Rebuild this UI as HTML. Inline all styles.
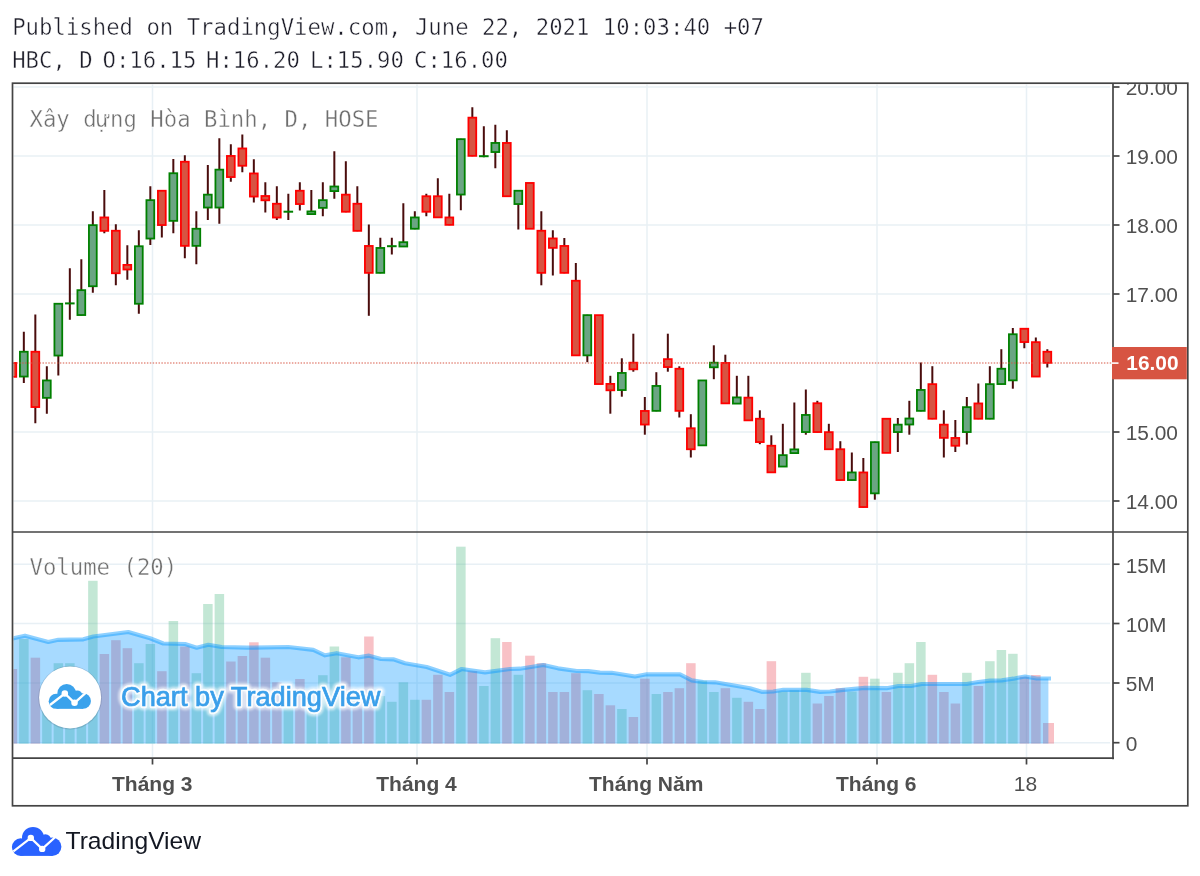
<!DOCTYPE html><html><head><meta charset="utf-8"><title>HBC chart</title>
<style>html,body{margin:0;padding:0;background:#fff}svg{display:block}text{white-space:pre}</style></head><body>
<svg width="1200" height="876" viewBox="0 0 1200 876">
<rect width="1200" height="876" fill="#fff"/>
<defs><clipPath id="cp"><rect x="13.5" y="84.2" width="1098.6" height="673"/></clipPath><filter id="bl" x="-5%" y="-30%" width="110%" height="160%"><feGaussianBlur stdDeviation="0.8"/></filter><clipPath id="ca"><rect x="1114" y="84.2" width="73" height="673"/></clipPath></defs>
<g font-family='"DejaVu Sans Mono","Liberation Mono",monospace' font-size="22.3" fill="#1c1c28" stroke="#fff" stroke-width="0.45">
<text x="12.2" y="35">Published on TradingView.com, June 22, 2021 10:03:40 +07</text>
<text x="12.2" y="68.3">HBC, D</text>
<text x="102.5" y="68.3">O:16.15</text>
<text x="206" y="68.3">H:16.20</text>
<text x="310" y="68.3">L:15.90</text>
<text x="414" y="68.3">C:16.00</text>
</g>
<g stroke="#e8f0f5" stroke-width="1.5" fill="none">
<line x1="13.5" y1="87" x2="1110" y2="87"/>
<line x1="13.5" y1="156" x2="1110" y2="156"/>
<line x1="13.5" y1="225" x2="1110" y2="225"/>
<line x1="13.5" y1="294" x2="1110" y2="294"/>
<line x1="13.5" y1="432" x2="1110" y2="432"/>
<line x1="13.5" y1="501" x2="1110" y2="501"/>
<line x1="13.5" y1="564.2" x2="1110" y2="564.2"/>
<line x1="13.5" y1="623.5" x2="1110" y2="623.5"/>
<line x1="13.5" y1="683" x2="1110" y2="683"/>
<line x1="13.5" y1="742.7" x2="1110" y2="742.7"/>
<line x1="152.5" y1="84.5" x2="152.5" y2="757"/>
<line x1="417" y1="84.5" x2="417" y2="757"/>
<line x1="647" y1="84.5" x2="647" y2="757"/>
<line x1="877" y1="84.5" x2="877" y2="757"/>
<line x1="1026.5" y1="84.5" x2="1026.5" y2="757"/>
</g>
<g clip-path="url(#cp)">
<rect x="7.63" y="669" width="9.5" height="74.6" fill="rgba(235,77,92,0.35)"/>
<rect x="19.13" y="639" width="9.5" height="104.6" fill="rgba(83,185,135,0.35)"/>
<rect x="30.63" y="657.7" width="9.5" height="85.9" fill="rgba(235,77,92,0.35)"/>
<rect x="42.13" y="685" width="9.5" height="58.6" fill="rgba(83,185,135,0.35)"/>
<rect x="53.63" y="663.2" width="9.5" height="80.4" fill="rgba(83,185,135,0.35)"/>
<rect x="65.13" y="663.2" width="9.5" height="80.4" fill="rgba(83,185,135,0.35)"/>
<rect x="76.63" y="690" width="9.5" height="53.6" fill="rgba(83,185,135,0.35)"/>
<rect x="88.13" y="580.8" width="9.5" height="162.8" fill="rgba(83,185,135,0.35)"/>
<rect x="99.63" y="654" width="9.5" height="89.6" fill="rgba(235,77,92,0.35)"/>
<rect x="111.13" y="640.2" width="9.5" height="103.4" fill="rgba(235,77,92,0.35)"/>
<rect x="122.63" y="648.2" width="9.5" height="95.4" fill="rgba(235,77,92,0.35)"/>
<rect x="134.13" y="663.2" width="9.5" height="80.4" fill="rgba(83,185,135,0.35)"/>
<rect x="145.63" y="644" width="9.5" height="99.6" fill="rgba(83,185,135,0.35)"/>
<rect x="157.13" y="671.2" width="9.5" height="72.4" fill="rgba(235,77,92,0.35)"/>
<rect x="168.63" y="621" width="9.5" height="122.6" fill="rgba(83,185,135,0.35)"/>
<rect x="180.13" y="646.5" width="9.5" height="97.1" fill="rgba(235,77,92,0.35)"/>
<rect x="191.63" y="673.2" width="9.5" height="70.4" fill="rgba(83,185,135,0.35)"/>
<rect x="203.13" y="604" width="9.5" height="139.6" fill="rgba(83,185,135,0.35)"/>
<rect x="214.63" y="594" width="9.5" height="149.6" fill="rgba(83,185,135,0.35)"/>
<rect x="226.13" y="661.5" width="9.5" height="82.1" fill="rgba(235,77,92,0.35)"/>
<rect x="237.63" y="656" width="9.5" height="87.6" fill="rgba(235,77,92,0.35)"/>
<rect x="249.13" y="642.3" width="9.5" height="101.3" fill="rgba(235,77,92,0.35)"/>
<rect x="260.63" y="657.7" width="9.5" height="85.9" fill="rgba(235,77,92,0.35)"/>
<rect x="272.13" y="682.3" width="9.5" height="61.3" fill="rgba(235,77,92,0.35)"/>
<rect x="283.63" y="697" width="9.5" height="46.6" fill="rgba(83,185,135,0.35)"/>
<rect x="295.13" y="679" width="9.5" height="64.6" fill="rgba(235,77,92,0.35)"/>
<rect x="306.63" y="702" width="9.5" height="41.6" fill="rgba(83,185,135,0.35)"/>
<rect x="318.13" y="675.2" width="9.5" height="68.4" fill="rgba(83,185,135,0.35)"/>
<rect x="329.63" y="646.5" width="9.5" height="97.1" fill="rgba(83,185,135,0.35)"/>
<rect x="341.13" y="657.3" width="9.5" height="86.3" fill="rgba(235,77,92,0.35)"/>
<rect x="352.63" y="702" width="9.5" height="41.6" fill="rgba(235,77,92,0.35)"/>
<rect x="364.13" y="636.5" width="9.5" height="107.1" fill="rgba(235,77,92,0.35)"/>
<rect x="375.63" y="696" width="9.5" height="47.6" fill="rgba(83,185,135,0.35)"/>
<rect x="387.13" y="701.8" width="9.5" height="41.8" fill="rgba(83,185,135,0.35)"/>
<rect x="398.63" y="682.3" width="9.5" height="61.3" fill="rgba(83,185,135,0.35)"/>
<rect x="410.13" y="699.8" width="9.5" height="43.8" fill="rgba(83,185,135,0.35)"/>
<rect x="421.63" y="699.8" width="9.5" height="43.8" fill="rgba(235,77,92,0.35)"/>
<rect x="433.13" y="674.8" width="9.5" height="68.8" fill="rgba(235,77,92,0.35)"/>
<rect x="444.63" y="692" width="9.5" height="51.6" fill="rgba(235,77,92,0.35)"/>
<rect x="456.13" y="546.7" width="9.5" height="196.9" fill="rgba(83,185,135,0.35)"/>
<rect x="467.63" y="671.2" width="9.5" height="72.4" fill="rgba(235,77,92,0.35)"/>
<rect x="479.13" y="686" width="9.5" height="57.6" fill="rgba(83,185,135,0.35)"/>
<rect x="490.63" y="638.2" width="9.5" height="105.4" fill="rgba(83,185,135,0.35)"/>
<rect x="502.13" y="642" width="9.5" height="101.6" fill="rgba(235,77,92,0.35)"/>
<rect x="513.63" y="674.8" width="9.5" height="68.8" fill="rgba(83,185,135,0.35)"/>
<rect x="525.13" y="655.7" width="9.5" height="87.9" fill="rgba(235,77,92,0.35)"/>
<rect x="536.63" y="663.2" width="9.5" height="80.4" fill="rgba(235,77,92,0.35)"/>
<rect x="548.13" y="692" width="9.5" height="51.6" fill="rgba(235,77,92,0.35)"/>
<rect x="559.63" y="692" width="9.5" height="51.6" fill="rgba(235,77,92,0.35)"/>
<rect x="571.13" y="673.2" width="9.5" height="70.4" fill="rgba(235,77,92,0.35)"/>
<rect x="582.63" y="690.2" width="9.5" height="53.4" fill="rgba(83,185,135,0.35)"/>
<rect x="594.13" y="694" width="9.5" height="49.6" fill="rgba(235,77,92,0.35)"/>
<rect x="605.63" y="705.3" width="9.5" height="38.3" fill="rgba(235,77,92,0.35)"/>
<rect x="617.13" y="709" width="9.5" height="34.6" fill="rgba(83,185,135,0.35)"/>
<rect x="628.63" y="717" width="9.5" height="26.6" fill="rgba(235,77,92,0.35)"/>
<rect x="640.13" y="678.7" width="9.5" height="64.9" fill="rgba(235,77,92,0.35)"/>
<rect x="651.63" y="694" width="9.5" height="49.6" fill="rgba(83,185,135,0.35)"/>
<rect x="663.13" y="692" width="9.5" height="51.6" fill="rgba(235,77,92,0.35)"/>
<rect x="674.63" y="688.2" width="9.5" height="55.4" fill="rgba(235,77,92,0.35)"/>
<rect x="686.13" y="663.2" width="9.5" height="80.4" fill="rgba(235,77,92,0.35)"/>
<rect x="697.63" y="680.7" width="9.5" height="62.9" fill="rgba(83,185,135,0.35)"/>
<rect x="709.13" y="692" width="9.5" height="51.6" fill="rgba(83,185,135,0.35)"/>
<rect x="720.63" y="688.2" width="9.5" height="55.4" fill="rgba(235,77,92,0.35)"/>
<rect x="732.13" y="697.8" width="9.5" height="45.8" fill="rgba(83,185,135,0.35)"/>
<rect x="743.63" y="701.8" width="9.5" height="41.8" fill="rgba(235,77,92,0.35)"/>
<rect x="755.13" y="709" width="9.5" height="34.6" fill="rgba(235,77,92,0.35)"/>
<rect x="766.63" y="661.2" width="9.5" height="82.4" fill="rgba(235,77,92,0.35)"/>
<rect x="778.13" y="691.5" width="9.5" height="52.1" fill="rgba(83,185,135,0.35)"/>
<rect x="789.63" y="690.2" width="9.5" height="53.4" fill="rgba(83,185,135,0.35)"/>
<rect x="801.13" y="672.8" width="9.5" height="70.8" fill="rgba(83,185,135,0.35)"/>
<rect x="812.63" y="703.5" width="9.5" height="40.1" fill="rgba(235,77,92,0.35)"/>
<rect x="824.13" y="696" width="9.5" height="47.6" fill="rgba(235,77,92,0.35)"/>
<rect x="835.63" y="688.2" width="9.5" height="55.4" fill="rgba(235,77,92,0.35)"/>
<rect x="847.13" y="691.5" width="9.5" height="52.1" fill="rgba(83,185,135,0.35)"/>
<rect x="858.63" y="676.8" width="9.5" height="66.8" fill="rgba(235,77,92,0.35)"/>
<rect x="870.13" y="678.7" width="9.5" height="64.9" fill="rgba(83,185,135,0.35)"/>
<rect x="881.63" y="692" width="9.5" height="51.6" fill="rgba(235,77,92,0.35)"/>
<rect x="893.13" y="672.8" width="9.5" height="70.8" fill="rgba(83,185,135,0.35)"/>
<rect x="904.63" y="663.2" width="9.5" height="80.4" fill="rgba(83,185,135,0.35)"/>
<rect x="916.13" y="642" width="9.5" height="101.6" fill="rgba(83,185,135,0.35)"/>
<rect x="927.63" y="674.8" width="9.5" height="68.8" fill="rgba(235,77,92,0.35)"/>
<rect x="939.13" y="692" width="9.5" height="51.6" fill="rgba(235,77,92,0.35)"/>
<rect x="950.63" y="703.5" width="9.5" height="40.1" fill="rgba(235,77,92,0.35)"/>
<rect x="962.13" y="672.8" width="9.5" height="70.8" fill="rgba(83,185,135,0.35)"/>
<rect x="973.63" y="686" width="9.5" height="57.6" fill="rgba(235,77,92,0.35)"/>
<rect x="985.13" y="661.2" width="9.5" height="82.4" fill="rgba(83,185,135,0.35)"/>
<rect x="996.63" y="650" width="9.5" height="93.6" fill="rgba(83,185,135,0.35)"/>
<rect x="1008.13" y="653.8" width="9.5" height="89.8" fill="rgba(83,185,135,0.35)"/>
<rect x="1019.63" y="676.7" width="9.5" height="66.9" fill="rgba(235,77,92,0.35)"/>
<rect x="1031.13" y="675" width="9.5" height="68.6" fill="rgba(235,77,92,0.35)"/>
<rect x="1043.00" y="723" width="11" height="20.6" fill="rgba(235,77,92,0.35)"/>
<polygon points="12.3,638.5 25,635.7 48.3,642 58.3,639.8 83.3,639.3 93.3,636.5 128.3,632 150,638.2 163.3,643.5 185,644 196.7,647.7 208.3,644.8 221.7,647 246.7,647.7 288.3,647 313.3,649.8 325,655.3 336.7,653.2 358.3,657.3 369,655.7 381,659 393.3,659.3 405,663.2 426.7,667 450,674.8 461.7,669 485,672.3 510,669 520,668.7 543.3,665 558,668.3 576.7,671 588.3,671.2 600,672.7 611.7,672.8 635,676.5 646.7,674.3 680,674.3 691.7,680.3 703.3,682 715,682.3 740,686.5 750,688.2 761.7,691.8 773.3,691.5 783.3,689.8 806.7,689.8 820,691.8 830,691.5 843.3,689.8 865,687.8 886.7,688.2 898.3,686 911,686 921.7,684 966.7,684 978.3,682 990,680.7 1001.7,680.3 1013.3,678.7 1025,676.5 1036.7,678.5 1048.4,678.5 1048.4,743.6 12.3,743.6" fill="rgba(4,150,255,0.35)"/>
<polyline points="12.3,638.5 25,635.7 48.3,642 58.3,639.8 83.3,639.3 93.3,636.5 128.3,632 150,638.2 163.3,643.5 185,644 196.7,647.7 208.3,644.8 221.7,647 246.7,647.7 288.3,647 313.3,649.8 325,655.3 336.7,653.2 358.3,657.3 369,655.7 381,659 393.3,659.3 405,663.2 426.7,667 450,674.8 461.7,669 485,672.3 510,669 520,668.7 543.3,665 558,668.3 576.7,671 588.3,671.2 600,672.7 611.7,672.8 635,676.5 646.7,674.3 680,674.3 691.7,680.3 703.3,682 715,682.3 740,686.5 750,688.2 761.7,691.8 773.3,691.5 783.3,689.8 806.7,689.8 820,691.8 830,691.5 843.3,689.8 865,687.8 886.7,688.2 898.3,686 911,686 921.7,684 966.7,684 978.3,682 990,680.7 1001.7,680.3 1013.3,678.7 1025,676.5 1036.7,678.5 1048.4,678.5 1051,678.5" fill="none" stroke="rgba(4,150,255,0.45)" stroke-width="4.2" stroke-linejoin="round"/>
</g>
<g clip-path="url(#cp)">
<rect x="8.43" y="362.95" width="7.8" height="13.90" fill="#d75442" stroke="#ff0000" stroke-width="1.8"/>
<line x1="23.83" y1="331.7" x2="23.83" y2="383" stroke="#4a0c0c" stroke-width="2"/>
<rect x="19.93" y="351.75" width="7.8" height="24.80" fill="#6ba583" stroke="#008000" stroke-width="1.8"/>
<line x1="35.33" y1="314.5" x2="35.33" y2="423.3" stroke="#4a0c0c" stroke-width="2"/>
<rect x="31.43" y="351.75" width="7.8" height="55.30" fill="#d75442" stroke="#ff0000" stroke-width="1.8"/>
<line x1="46.83" y1="366.3" x2="46.83" y2="413.7" stroke="#4a0c0c" stroke-width="2"/>
<rect x="42.93" y="380.45" width="7.8" height="17.40" fill="#6ba583" stroke="#008000" stroke-width="1.8"/>
<line x1="58.33" y1="303.3" x2="58.33" y2="375.5" stroke="#4a0c0c" stroke-width="2"/>
<rect x="54.43" y="303.75" width="7.8" height="51.80" fill="#6ba583" stroke="#008000" stroke-width="1.8"/>
<line x1="69.83" y1="268.3" x2="69.83" y2="319.7" stroke="#4a0c0c" stroke-width="2"/>
<rect x="65.03" y="302.40" width="9.6" height="2.00" fill="#008000"/>
<line x1="81.33" y1="259.2" x2="81.33" y2="315.5" stroke="#4a0c0c" stroke-width="2"/>
<rect x="77.43" y="290.15" width="7.8" height="24.90" fill="#6ba583" stroke="#008000" stroke-width="1.8"/>
<line x1="92.83" y1="211.2" x2="92.83" y2="292.8" stroke="#4a0c0c" stroke-width="2"/>
<rect x="88.93" y="225.15" width="7.8" height="61.10" fill="#6ba583" stroke="#008000" stroke-width="1.8"/>
<line x1="104.33" y1="190" x2="104.33" y2="233.3" stroke="#4a0c0c" stroke-width="2"/>
<rect x="100.43" y="217.45" width="7.8" height="13.40" fill="#d75442" stroke="#ff0000" stroke-width="1.8"/>
<line x1="115.83" y1="224.2" x2="115.83" y2="285.3" stroke="#4a0c0c" stroke-width="2"/>
<rect x="111.93" y="230.75" width="7.8" height="42.50" fill="#d75442" stroke="#ff0000" stroke-width="1.8"/>
<line x1="127.33" y1="245.3" x2="127.33" y2="279.7" stroke="#4a0c0c" stroke-width="2"/>
<rect x="123.43" y="264.90" width="7.8" height="4.60" fill="#d75442" stroke="#ff0000" stroke-width="1.8"/>
<line x1="138.83" y1="230.3" x2="138.83" y2="313.8" stroke="#4a0c0c" stroke-width="2"/>
<rect x="134.93" y="246.25" width="7.8" height="57.50" fill="#6ba583" stroke="#008000" stroke-width="1.8"/>
<line x1="150.33" y1="186.2" x2="150.33" y2="245" stroke="#4a0c0c" stroke-width="2"/>
<rect x="146.43" y="200.15" width="7.8" height="38.40" fill="#6ba583" stroke="#008000" stroke-width="1.8"/>
<line x1="161.83" y1="190.3" x2="161.83" y2="237.5" stroke="#4a0c0c" stroke-width="2"/>
<rect x="157.93" y="190.75" width="7.8" height="34.30" fill="#d75442" stroke="#ff0000" stroke-width="1.8"/>
<line x1="173.33" y1="159.1" x2="173.33" y2="233.3" stroke="#4a0c0c" stroke-width="2"/>
<rect x="169.43" y="173.25" width="7.8" height="47.60" fill="#6ba583" stroke="#008000" stroke-width="1.8"/>
<line x1="184.83" y1="155.3" x2="184.83" y2="258.3" stroke="#4a0c0c" stroke-width="2"/>
<rect x="180.93" y="161.75" width="7.8" height="84.10" fill="#d75442" stroke="#ff0000" stroke-width="1.8"/>
<line x1="196.33" y1="211.2" x2="196.33" y2="264.2" stroke="#4a0c0c" stroke-width="2"/>
<rect x="192.43" y="228.75" width="7.8" height="17.10" fill="#6ba583" stroke="#008000" stroke-width="1.8"/>
<line x1="207.83" y1="165" x2="207.83" y2="220" stroke="#4a0c0c" stroke-width="2"/>
<rect x="203.93" y="194.65" width="7.8" height="12.90" fill="#6ba583" stroke="#008000" stroke-width="1.8"/>
<line x1="219.33" y1="138.3" x2="219.33" y2="223.7" stroke="#4a0c0c" stroke-width="2"/>
<rect x="215.43" y="169.65" width="7.8" height="37.90" fill="#6ba583" stroke="#008000" stroke-width="1.8"/>
<line x1="230.83" y1="144.2" x2="230.83" y2="181.7" stroke="#4a0c0c" stroke-width="2"/>
<rect x="226.93" y="155.95" width="7.8" height="21.10" fill="#d75442" stroke="#ff0000" stroke-width="1.8"/>
<line x1="242.33" y1="134.5" x2="242.33" y2="172.2" stroke="#4a0c0c" stroke-width="2"/>
<rect x="238.43" y="148.45" width="7.8" height="17.30" fill="#d75442" stroke="#ff0000" stroke-width="1.8"/>
<line x1="253.83" y1="159.2" x2="253.83" y2="202.5" stroke="#4a0c0c" stroke-width="2"/>
<rect x="249.93" y="173.45" width="7.8" height="23.10" fill="#d75442" stroke="#ff0000" stroke-width="1.8"/>
<line x1="265.33" y1="182.2" x2="265.33" y2="212.5" stroke="#4a0c0c" stroke-width="2"/>
<rect x="261.43" y="196.00" width="7.8" height="4.30" fill="#d75442" stroke="#ff0000" stroke-width="1.8"/>
<line x1="276.83" y1="186.2" x2="276.83" y2="220" stroke="#4a0c0c" stroke-width="2"/>
<rect x="272.93" y="203.75" width="7.8" height="13.80" fill="#d75442" stroke="#ff0000" stroke-width="1.8"/>
<line x1="288.33" y1="193.7" x2="288.33" y2="220" stroke="#4a0c0c" stroke-width="2"/>
<rect x="283.53" y="210.70" width="9.6" height="2.00" fill="#008000"/>
<line x1="299.83" y1="182.2" x2="299.83" y2="210.5" stroke="#4a0c0c" stroke-width="2"/>
<rect x="295.93" y="190.75" width="7.8" height="13.30" fill="#d75442" stroke="#ff0000" stroke-width="1.8"/>
<line x1="311.33" y1="190" x2="311.33" y2="214.3" stroke="#4a0c0c" stroke-width="2"/>
<rect x="307.43" y="211.40" width="7.8" height="2.70" fill="#6ba583" stroke="#008000" stroke-width="1.8"/>
<line x1="322.83" y1="182.2" x2="322.83" y2="216.3" stroke="#4a0c0c" stroke-width="2"/>
<rect x="318.93" y="200.15" width="7.8" height="7.70" fill="#6ba583" stroke="#008000" stroke-width="1.8"/>
<line x1="334.33" y1="151.3" x2="334.33" y2="198.8" stroke="#4a0c0c" stroke-width="2"/>
<rect x="330.43" y="186.50" width="7.8" height="4.60" fill="#6ba583" stroke="#008000" stroke-width="1.8"/>
<line x1="345.83" y1="161.2" x2="345.83" y2="212.2" stroke="#4a0c0c" stroke-width="2"/>
<rect x="341.93" y="194.65" width="7.8" height="17.10" fill="#d75442" stroke="#ff0000" stroke-width="1.8"/>
<line x1="357.33" y1="186.2" x2="357.33" y2="231.3" stroke="#4a0c0c" stroke-width="2"/>
<rect x="353.43" y="203.75" width="7.8" height="27.10" fill="#d75442" stroke="#ff0000" stroke-width="1.8"/>
<line x1="368.83" y1="224.5" x2="368.83" y2="315.8" stroke="#4a0c0c" stroke-width="2"/>
<rect x="364.93" y="245.95" width="7.8" height="26.90" fill="#d75442" stroke="#ff0000" stroke-width="1.8"/>
<line x1="380.33" y1="237.8" x2="380.33" y2="273.3" stroke="#4a0c0c" stroke-width="2"/>
<rect x="376.43" y="247.95" width="7.8" height="24.90" fill="#6ba583" stroke="#008000" stroke-width="1.8"/>
<line x1="391.83" y1="237.8" x2="391.83" y2="254.5" stroke="#4a0c0c" stroke-width="2"/>
<rect x="387.03" y="245.20" width="9.6" height="2.00" fill="#008000"/>
<line x1="403.33" y1="203.3" x2="403.33" y2="246.7" stroke="#4a0c0c" stroke-width="2"/>
<rect x="399.43" y="242.20" width="7.8" height="4.30" fill="#6ba583" stroke="#008000" stroke-width="1.8"/>
<line x1="414.83" y1="211.2" x2="414.83" y2="229.2" stroke="#4a0c0c" stroke-width="2"/>
<rect x="410.93" y="217.45" width="7.8" height="11.30" fill="#6ba583" stroke="#008000" stroke-width="1.8"/>
<line x1="426.33" y1="193.7" x2="426.33" y2="216.2" stroke="#4a0c0c" stroke-width="2"/>
<rect x="422.43" y="196.25" width="7.8" height="15.50" fill="#d75442" stroke="#ff0000" stroke-width="1.8"/>
<line x1="437.83" y1="178.3" x2="437.83" y2="217.8" stroke="#4a0c0c" stroke-width="2"/>
<rect x="433.93" y="196.25" width="7.8" height="21.10" fill="#d75442" stroke="#ff0000" stroke-width="1.8"/>
<line x1="449.33" y1="193.7" x2="449.33" y2="225.3" stroke="#4a0c0c" stroke-width="2"/>
<rect x="445.43" y="217.45" width="7.8" height="7.40" fill="#d75442" stroke="#ff0000" stroke-width="1.8"/>
<line x1="460.83" y1="138.7" x2="460.83" y2="210.3" stroke="#4a0c0c" stroke-width="2"/>
<rect x="456.93" y="139.15" width="7.8" height="55.40" fill="#6ba583" stroke="#008000" stroke-width="1.8"/>
<line x1="472.33" y1="107.2" x2="472.33" y2="156.3" stroke="#4a0c0c" stroke-width="2"/>
<rect x="468.43" y="117.65" width="7.8" height="38.20" fill="#d75442" stroke="#ff0000" stroke-width="1.8"/>
<line x1="483.83" y1="126.3" x2="483.83" y2="157.2" stroke="#4a0c0c" stroke-width="2"/>
<rect x="479.03" y="155.20" width="9.6" height="2.00" fill="#008000"/>
<line x1="495.33" y1="124.7" x2="495.33" y2="168.3" stroke="#4a0c0c" stroke-width="2"/>
<rect x="491.43" y="142.95" width="7.8" height="9.10" fill="#6ba583" stroke="#008000" stroke-width="1.8"/>
<line x1="506.83" y1="130.3" x2="506.83" y2="196.7" stroke="#4a0c0c" stroke-width="2"/>
<rect x="502.93" y="142.95" width="7.8" height="53.30" fill="#d75442" stroke="#ff0000" stroke-width="1.8"/>
<line x1="518.33" y1="190.3" x2="518.33" y2="229.5" stroke="#4a0c0c" stroke-width="2"/>
<rect x="514.43" y="190.75" width="7.8" height="13.30" fill="#6ba583" stroke="#008000" stroke-width="1.8"/>
<rect x="525.93" y="182.95" width="7.8" height="45.80" fill="#d75442" stroke="#ff0000" stroke-width="1.8"/>
<line x1="541.33" y1="211.2" x2="541.33" y2="285.3" stroke="#4a0c0c" stroke-width="2"/>
<rect x="537.43" y="230.75" width="7.8" height="42.10" fill="#d75442" stroke="#ff0000" stroke-width="1.8"/>
<line x1="552.83" y1="230.3" x2="552.83" y2="275.5" stroke="#4a0c0c" stroke-width="2"/>
<rect x="548.93" y="238.45" width="7.8" height="9.40" fill="#d75442" stroke="#ff0000" stroke-width="1.8"/>
<line x1="564.33" y1="238" x2="564.33" y2="273.3" stroke="#4a0c0c" stroke-width="2"/>
<rect x="560.43" y="245.95" width="7.8" height="26.90" fill="#d75442" stroke="#ff0000" stroke-width="1.8"/>
<line x1="575.83" y1="263" x2="575.83" y2="355.8" stroke="#4a0c0c" stroke-width="2"/>
<rect x="571.93" y="280.75" width="7.8" height="74.60" fill="#d75442" stroke="#ff0000" stroke-width="1.8"/>
<line x1="587.33" y1="314.7" x2="587.33" y2="362.2" stroke="#4a0c0c" stroke-width="2"/>
<rect x="583.43" y="315.15" width="7.8" height="40.20" fill="#6ba583" stroke="#008000" stroke-width="1.8"/>
<rect x="594.93" y="315.15" width="7.8" height="68.90" fill="#d75442" stroke="#ff0000" stroke-width="1.8"/>
<line x1="610.33" y1="375.8" x2="610.33" y2="413.7" stroke="#4a0c0c" stroke-width="2"/>
<rect x="606.43" y="383.90" width="7.8" height="6.40" fill="#d75442" stroke="#ff0000" stroke-width="1.8"/>
<line x1="621.83" y1="358.3" x2="621.83" y2="396.7" stroke="#4a0c0c" stroke-width="2"/>
<rect x="617.93" y="372.95" width="7.8" height="17.10" fill="#6ba583" stroke="#008000" stroke-width="1.8"/>
<line x1="633.33" y1="333.7" x2="633.33" y2="371.7" stroke="#4a0c0c" stroke-width="2"/>
<rect x="629.43" y="362.70" width="7.8" height="6.60" fill="#d75442" stroke="#ff0000" stroke-width="1.8"/>
<line x1="644.83" y1="397" x2="644.83" y2="434.7" stroke="#4a0c0c" stroke-width="2"/>
<rect x="640.93" y="410.95" width="7.8" height="13.60" fill="#d75442" stroke="#ff0000" stroke-width="1.8"/>
<line x1="656.33" y1="372.2" x2="656.33" y2="411.3" stroke="#4a0c0c" stroke-width="2"/>
<rect x="652.43" y="385.95" width="7.8" height="24.90" fill="#6ba583" stroke="#008000" stroke-width="1.8"/>
<line x1="667.83" y1="333.7" x2="667.83" y2="371.7" stroke="#4a0c0c" stroke-width="2"/>
<rect x="663.93" y="359.15" width="7.8" height="7.90" fill="#d75442" stroke="#ff0000" stroke-width="1.8"/>
<line x1="679.33" y1="366.3" x2="679.33" y2="417.5" stroke="#4a0c0c" stroke-width="2"/>
<rect x="675.43" y="368.75" width="7.8" height="42.10" fill="#d75442" stroke="#ff0000" stroke-width="1.8"/>
<line x1="690.83" y1="414.2" x2="690.83" y2="457.5" stroke="#4a0c0c" stroke-width="2"/>
<rect x="686.93" y="428.25" width="7.8" height="21.00" fill="#d75442" stroke="#ff0000" stroke-width="1.8"/>
<rect x="698.43" y="380.45" width="7.8" height="64.90" fill="#6ba583" stroke="#008000" stroke-width="1.8"/>
<line x1="713.83" y1="345.3" x2="713.83" y2="379.2" stroke="#4a0c0c" stroke-width="2"/>
<rect x="709.93" y="362.70" width="7.8" height="4.60" fill="#6ba583" stroke="#008000" stroke-width="1.8"/>
<line x1="725.33" y1="354.7" x2="725.33" y2="403.8" stroke="#4a0c0c" stroke-width="2"/>
<rect x="721.43" y="362.95" width="7.8" height="40.40" fill="#d75442" stroke="#ff0000" stroke-width="1.8"/>
<line x1="736.83" y1="375.8" x2="736.83" y2="403.8" stroke="#4a0c0c" stroke-width="2"/>
<rect x="732.93" y="397.40" width="7.8" height="6.20" fill="#6ba583" stroke="#008000" stroke-width="1.8"/>
<line x1="748.33" y1="375.8" x2="748.33" y2="420.8" stroke="#4a0c0c" stroke-width="2"/>
<rect x="744.43" y="397.65" width="7.8" height="22.70" fill="#d75442" stroke="#ff0000" stroke-width="1.8"/>
<line x1="759.83" y1="410.3" x2="759.83" y2="444.2" stroke="#4a0c0c" stroke-width="2"/>
<rect x="755.93" y="418.75" width="7.8" height="23.30" fill="#d75442" stroke="#ff0000" stroke-width="1.8"/>
<line x1="771.33" y1="435.3" x2="771.33" y2="472.8" stroke="#4a0c0c" stroke-width="2"/>
<rect x="767.43" y="445.75" width="7.8" height="26.60" fill="#d75442" stroke="#ff0000" stroke-width="1.8"/>
<line x1="782.83" y1="423.8" x2="782.83" y2="467" stroke="#4a0c0c" stroke-width="2"/>
<rect x="778.93" y="455.15" width="7.8" height="11.40" fill="#6ba583" stroke="#008000" stroke-width="1.8"/>
<line x1="794.33" y1="402.5" x2="794.33" y2="453.3" stroke="#4a0c0c" stroke-width="2"/>
<rect x="790.43" y="449.40" width="7.8" height="3.70" fill="#6ba583" stroke="#008000" stroke-width="1.8"/>
<line x1="805.83" y1="389.5" x2="805.83" y2="434.7" stroke="#4a0c0c" stroke-width="2"/>
<rect x="801.93" y="414.95" width="7.8" height="17.10" fill="#6ba583" stroke="#008000" stroke-width="1.8"/>
<line x1="817.33" y1="400.8" x2="817.33" y2="432.5" stroke="#4a0c0c" stroke-width="2"/>
<rect x="813.43" y="403.25" width="7.8" height="28.80" fill="#d75442" stroke="#ff0000" stroke-width="1.8"/>
<line x1="828.83" y1="423.8" x2="828.83" y2="449.7" stroke="#4a0c0c" stroke-width="2"/>
<rect x="824.93" y="432.15" width="7.8" height="17.10" fill="#d75442" stroke="#ff0000" stroke-width="1.8"/>
<line x1="840.33" y1="441.2" x2="840.33" y2="480.5" stroke="#4a0c0c" stroke-width="2"/>
<rect x="836.43" y="449.25" width="7.8" height="30.80" fill="#d75442" stroke="#ff0000" stroke-width="1.8"/>
<line x1="851.83" y1="452.5" x2="851.83" y2="480.5" stroke="#4a0c0c" stroke-width="2"/>
<rect x="847.93" y="472.45" width="7.8" height="7.60" fill="#6ba583" stroke="#008000" stroke-width="1.8"/>
<line x1="863.33" y1="458" x2="863.33" y2="507.5" stroke="#4a0c0c" stroke-width="2"/>
<rect x="859.43" y="472.45" width="7.8" height="34.60" fill="#d75442" stroke="#ff0000" stroke-width="1.8"/>
<line x1="874.83" y1="441.7" x2="874.83" y2="499.7" stroke="#4a0c0c" stroke-width="2"/>
<rect x="870.93" y="442.15" width="7.8" height="51.20" fill="#6ba583" stroke="#008000" stroke-width="1.8"/>
<rect x="882.43" y="418.75" width="7.8" height="34.10" fill="#d75442" stroke="#ff0000" stroke-width="1.8"/>
<line x1="897.83" y1="418" x2="897.83" y2="452" stroke="#4a0c0c" stroke-width="2"/>
<rect x="893.93" y="424.65" width="7.8" height="7.40" fill="#6ba583" stroke="#008000" stroke-width="1.8"/>
<line x1="909.33" y1="400.8" x2="909.33" y2="434.7" stroke="#4a0c0c" stroke-width="2"/>
<rect x="905.43" y="418.50" width="7.8" height="6.00" fill="#6ba583" stroke="#008000" stroke-width="1.8"/>
<line x1="920.83" y1="362.5" x2="920.83" y2="411.3" stroke="#4a0c0c" stroke-width="2"/>
<rect x="916.93" y="389.95" width="7.8" height="20.90" fill="#6ba583" stroke="#008000" stroke-width="1.8"/>
<line x1="932.33" y1="366.2" x2="932.33" y2="419.2" stroke="#4a0c0c" stroke-width="2"/>
<rect x="928.43" y="384.15" width="7.8" height="34.60" fill="#d75442" stroke="#ff0000" stroke-width="1.8"/>
<line x1="943.83" y1="410.3" x2="943.83" y2="457.5" stroke="#4a0c0c" stroke-width="2"/>
<rect x="939.93" y="424.65" width="7.8" height="13.20" fill="#d75442" stroke="#ff0000" stroke-width="1.8"/>
<line x1="955.33" y1="420" x2="955.33" y2="452" stroke="#4a0c0c" stroke-width="2"/>
<rect x="951.43" y="437.95" width="7.8" height="7.80" fill="#d75442" stroke="#ff0000" stroke-width="1.8"/>
<line x1="966.83" y1="397" x2="966.83" y2="444.5" stroke="#4a0c0c" stroke-width="2"/>
<rect x="962.93" y="407.15" width="7.8" height="24.90" fill="#6ba583" stroke="#008000" stroke-width="1.8"/>
<line x1="978.33" y1="383.5" x2="978.33" y2="419.2" stroke="#4a0c0c" stroke-width="2"/>
<rect x="974.43" y="403.45" width="7.8" height="15.30" fill="#d75442" stroke="#ff0000" stroke-width="1.8"/>
<line x1="989.83" y1="366.2" x2="989.83" y2="419.2" stroke="#4a0c0c" stroke-width="2"/>
<rect x="985.93" y="384.15" width="7.8" height="34.60" fill="#6ba583" stroke="#008000" stroke-width="1.8"/>
<line x1="1001.33" y1="349.2" x2="1001.33" y2="384.5" stroke="#4a0c0c" stroke-width="2"/>
<rect x="997.43" y="368.75" width="7.8" height="15.30" fill="#6ba583" stroke="#008000" stroke-width="1.8"/>
<line x1="1012.83" y1="328" x2="1012.83" y2="388.7" stroke="#4a0c0c" stroke-width="2"/>
<rect x="1008.93" y="334.25" width="7.8" height="46.10" fill="#6ba583" stroke="#008000" stroke-width="1.8"/>
<line x1="1024.33" y1="328.3" x2="1024.33" y2="348.3" stroke="#4a0c0c" stroke-width="2"/>
<rect x="1020.43" y="328.75" width="7.8" height="13.30" fill="#d75442" stroke="#ff0000" stroke-width="1.8"/>
<line x1="1035.83" y1="337.5" x2="1035.83" y2="377" stroke="#4a0c0c" stroke-width="2"/>
<rect x="1031.93" y="342.15" width="7.8" height="34.40" fill="#d75442" stroke="#ff0000" stroke-width="1.8"/>
<line x1="1047.33" y1="349.2" x2="1047.33" y2="367.5" stroke="#4a0c0c" stroke-width="2"/>
<rect x="1043.43" y="351.75" width="7.8" height="11.10" fill="#d75442" stroke="#ff0000" stroke-width="1.8"/>
<line x1="13.5" y1="363" x2="1113" y2="363" stroke="#d75442" stroke-width="1.3" stroke-dasharray="1.45 1.45" opacity="0.65"/>
</g>
<g font-family='"DejaVu Sans Mono","Liberation Mono",monospace' font-size="22.3" fill="#6e6e6e" stroke="#fff" stroke-width="0.4">
<text x="29.5" y="126.7">Xây dựng Hòa Bình, D, HOSE</text>
<text x="29.5" y="575.2">Volume (20)</text>
</g>
<g>
<circle cx="70.1" cy="697.7" r="31.9" fill="rgba(60,70,90,0.2)"/>
<circle cx="70.1" cy="697.4" r="31" fill="#fff"/>
<g transform="translate(48.7,684.1) scale(0.853)"><g fill="#3aa2ec"><circle cx="8.8" cy="20.2" r="8.8"/><circle cx="21.1" cy="11" r="11"/><circle cx="33.5" cy="13.2" r="5.8"/><circle cx="40.3" cy="19.8" r="9.2"/><rect x="9.2" y="14" width="31.1" height="15"/></g><polyline points="1.5,24.5 18.9,11 30.3,22 44,9.6" fill="none" stroke="#fff" stroke-width="2.7" stroke-linecap="butt"/><circle cx="18.9" cy="11" r="3.8" fill="#fff"/><circle cx="30.3" cy="22" r="3.8" fill="#fff"/></g>
<text x="121" y="705.6" font-family='"Liberation Sans",Arial,sans-serif' font-size="27.2" fill="#3a9fea" stroke="#fff" stroke-width="8.5" stroke-linejoin="round" stroke-opacity="0.6" filter="url(#bl)">Chart by TradingView</text>
<text x="121" y="705.6" font-family='"Liberation Sans",Arial,sans-serif' font-size="27.2" fill="#3a9fea" stroke="#fff" stroke-width="4.4" stroke-linejoin="round" stroke-opacity="0.85">Chart by TradingView</text>
<text x="121" y="705.6" font-family='"Liberation Sans",Arial,sans-serif' font-size="27.2" fill="#3a9fea" stroke="#3a9fea" stroke-width="0.7">Chart by TradingView</text>
</g>
<g stroke="#444" stroke-width="1.7" fill="none">
<rect x="12.5" y="83.2" width="1175.3" height="722.6"/>
<line x1="12.5" y1="532" x2="1187.8" y2="532"/>
<line x1="1113" y1="83.2" x2="1113" y2="759.2"/>
<line x1="12.5" y1="758.2" x2="1114" y2="758.2"/>
<line x1="1113" y1="87" x2="1119.5" y2="87"/>
<line x1="1113" y1="156" x2="1119.5" y2="156"/>
<line x1="1113" y1="225" x2="1119.5" y2="225"/>
<line x1="1113" y1="294" x2="1119.5" y2="294"/>
<line x1="1113" y1="432" x2="1119.5" y2="432"/>
<line x1="1113" y1="501" x2="1119.5" y2="501"/>
<line x1="1113" y1="564.2" x2="1119.5" y2="564.2"/>
<line x1="1113" y1="623.5" x2="1119.5" y2="623.5"/>
<line x1="1113" y1="683" x2="1119.5" y2="683"/>
<line x1="1113" y1="742.7" x2="1119.5" y2="742.7"/>
<line x1="152.5" y1="758.2" x2="152.5" y2="764.5"/>
<line x1="417" y1="758.2" x2="417" y2="764.5"/>
<line x1="647" y1="758.2" x2="647" y2="764.5"/>
<line x1="877" y1="758.2" x2="877" y2="764.5"/>
<line x1="1026.5" y1="758.2" x2="1026.5" y2="764.5"/>
</g>
<g font-family='"Liberation Sans",Arial,sans-serif' font-size="20.9" fill="#505050" clip-path="url(#ca)">
<text x="1125.7" y="95.4">20.00</text>
<text x="1125.7" y="164.4">19.00</text>
<text x="1125.7" y="233.4">18.00</text>
<text x="1125.7" y="302.4">17.00</text>
<text x="1125.7" y="440.4">15.00</text>
<text x="1125.7" y="509.4">14.00</text>
<text x="1125.7" y="572.6">15M</text>
<text x="1125.7" y="631.9">10M</text>
<text x="1125.7" y="691.4">5M</text>
<text x="1125.7" y="751.1">0</text>
</g>
<rect x="1112" y="347" width="74.8" height="32.3" fill="#d75442"/>
<line x1="1112" y1="363.1" x2="1118.5" y2="363.1" stroke="#fff" stroke-width="1.6"/>
<text x="1126.3" y="370.1" font-family='"Liberation Sans",Arial,sans-serif' font-size="20.9" font-weight="bold" fill="#fff">16.00</text>
<g font-family='"Liberation Sans",Arial,sans-serif' font-size="21" fill="#4f4f4f" text-anchor="middle">
<text x="152.3" y="791.3" font-weight="bold">Tháng 3</text>
<text x="416.5" y="791.3" font-weight="bold">Tháng 4</text>
<text x="646.2" y="791.3" font-weight="bold">Tháng Năm</text>
<text x="876.3" y="791.3" font-weight="bold">Tháng 6</text>
<text x="1025.5" y="791.3">18</text>
</g>
<g transform="translate(11.9,826.9) scale(1.0)"><g fill="#2962ff"><circle cx="8.8" cy="20.2" r="8.8"/><circle cx="21.1" cy="11" r="11"/><circle cx="33.5" cy="13.2" r="5.8"/><circle cx="40.3" cy="19.8" r="9.2"/><rect x="9.2" y="14" width="31.1" height="15"/></g><polyline points="1.5,24.5 18.9,11 30.3,22 44,9.6" fill="none" stroke="#fff" stroke-width="2.2" stroke-linecap="butt"/><circle cx="18.9" cy="11" r="3.2" fill="#fff"/><circle cx="30.3" cy="22" r="3.2" fill="#fff"/></g>
 <text x="65.5" y="848.6" font-family='"Liberation Sans",Arial,sans-serif' font-size="24.65" fill="#131722">TradingView</text>
</svg></body></html>
